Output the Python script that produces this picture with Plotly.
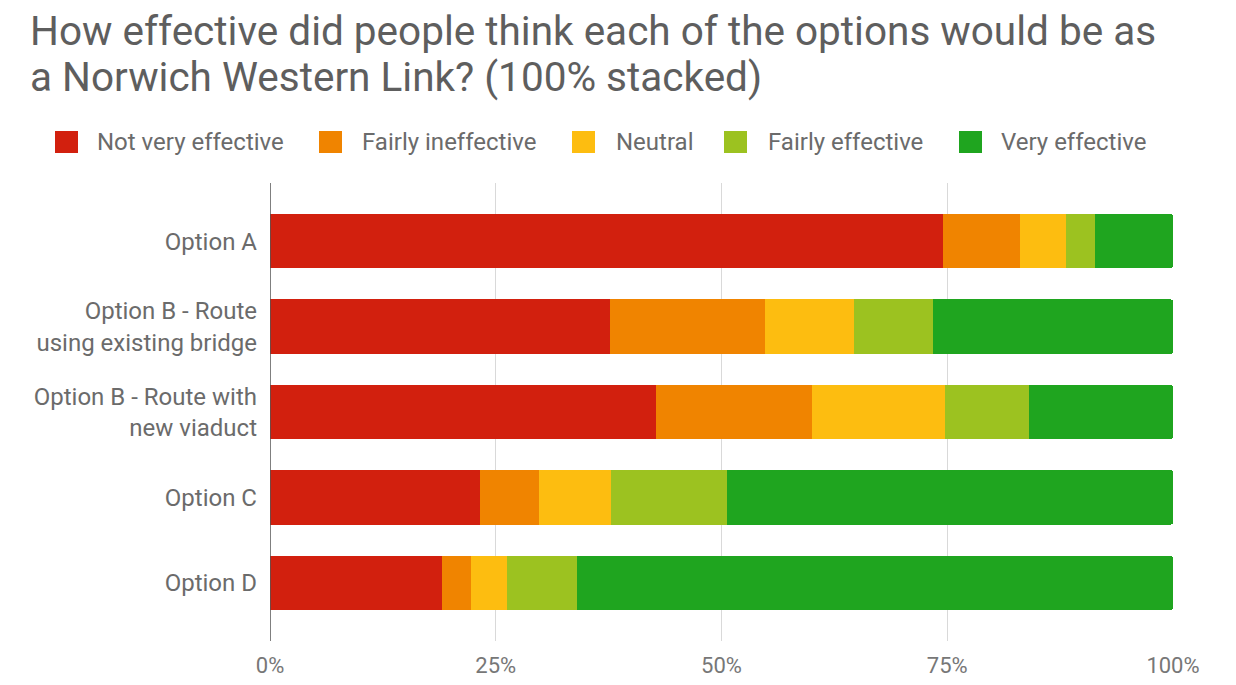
import plotly.graph_objects as go

categories = ["Option A", "Option B - Route<br>using existing bridge", "Option B - Route with<br>new viaduct", "Option C", "Option D"]
series_names = ["Not very effective", "Fairly ineffective", "Neutral", "Fairly effective", "Very effective"]
not_very_effective = [74.5, 37.6, 42.7, 23.2, 19.0]
fairly_ineffective = [8.6, 17.2, 17.3, 6.6, 3.3]
neutral = [5.0, 9.9, 14.8, 8.0, 4.0]
fairly_effective = [3.3, 8.7, 9.3, 12.8, 7.7]
very_effective = [8.6, 26.6, 15.9, 49.4, 66.0]
tick_vals = [0, 25, 50, 75, 100]
tick_text = ["0%", "25%", "50%", "75%", "100%"]
title_lines = ["How effective did people think each of the options would be as",
               "a Norwich Western Link? (100% stacked)"]

colors = ["#d2200e", "#f08400", "#fdbd10", "#9cc220", "#1fa51f"]
values = [not_very_effective, fairly_ineffective, neutral, fairly_effective, very_effective]

# layout in figure pixels (page is offset by the 8px body margin)
W, H = 1220, 669
L, R, T, B = 262, 55, 175, 36
pw = W - L - R
ph = H - T - B


def px(fx):
    return (fx - L) / pw


def py(fy):
    return (H - B - fy) / ph


fig = go.Figure()
for name, vals, col in zip(series_names, values, colors):
    fig.add_trace(go.Bar(
        y=categories, x=vals, name=name, orientation="h",
        marker=dict(color=col, line=dict(width=0)), width=0.64,
        showlegend=False,
    ))

# title lines
for line, cy in zip(title_lines, [23, 69]):
    fig.add_annotation(
        text=line, xref="paper", yref="paper",
        x=px(20), xanchor="left", y=py(cy), yanchor="middle",
        showarrow=False, font=dict(size=40.5, color="#5e5e5e", family="Roboto"),
    )

# legend (square swatch + label per series)
sq_left = [47, 311, 564, 716, 951]
txt_left = [87, 352, 606, 758, 991]
leg_y = 134
for name, col, sx, tx in zip(series_names, colors, sq_left, txt_left):
    fig.add_shape(type="rect", xref="paper", yref="paper",
                  x0=px(sx), x1=px(sx + 23), y0=py(leg_y + 11), y1=py(leg_y - 11),
                  fillcolor=col, line=dict(width=0))
    fig.add_annotation(text=name, xref="paper", yref="paper",
                       x=px(tx), xanchor="left", y=py(leg_y), yanchor="middle",
                       showarrow=False, font=dict(size=24, color="#6b6b6b", family="Roboto"))

fig.update_layout(
    barmode="stack",
    width=W, height=H,
    margin=dict(l=L, r=R, t=T, b=B, autoexpand=False),
    paper_bgcolor="white", plot_bgcolor="white",
    font=dict(family="Roboto", color="#6b6b6b"),
    showlegend=False,
    xaxis=dict(
        range=[0, 100], tickvals=tick_vals, ticktext=tick_text,
        showgrid=True, gridcolor="#d9d9d9", gridwidth=1,
        zeroline=False, showline=False,
        tickfont=dict(size=22, color="#777777"), ticks="",
        ticklabelstandoff=9,
    ),
    yaxis=dict(
        categoryorder="array", categoryarray=categories,
        range=[4.68, -0.68], showgrid=False, zeroline=False,
        showline=False, tickfont=dict(size=24, color="#6b6b6b"),
        ticks="", ticklabelstandoff=12,
    ),
    barcornerradius=3,
)
fig.add_shape(type="line", xref="x", yref="paper", x0=0, x1=0, y0=0, y1=1,
              line=dict(color="#555555", width=1.5))
fig.write_html("out.html")
